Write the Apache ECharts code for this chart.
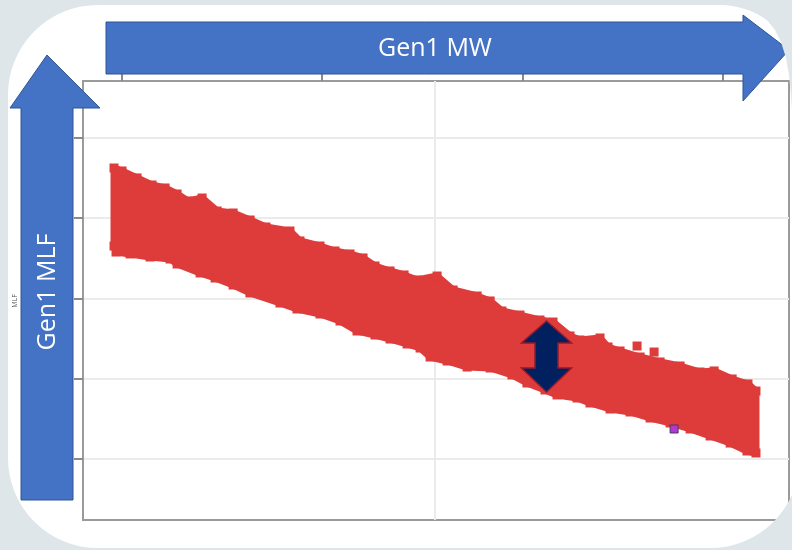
<!DOCTYPE html>
<html lang="en">

<head>
    <meta charset="UTF-8">
    <title>Gen1 MLF vs Gen1 MW</title>
    <script src="https://cdn.jsdelivr.net/npm/echarts@6/dist/echarts.min.js"></script>
    <style>
        html, body { margin: 0; padding: 0; background: #dfe6e9; }
        #chart { width: 792px; height: 550px; }
    </style>
</head>

<body>
    <div id="chart"></div>

    <script>
        // axis ranges (no labels are printed on the original)
        var mwRange = [80.5, 433.2];
        var mlfRange = [0.9424, 0.9971];
        var mwTicks = [100, 200, 300, 400];
        var mlfTicks = [0.95, 0.96, 0.97, 0.98, 0.99];
        var mwGridLine = 256.2;

        // upper edge of the red cloud, left to right  [MW, MLF]
        var bandTop = [
            [96.0, 0.98626], [100.0, 0.98589], [107.5, 0.98502], [115.0, 0.98414], [121.5, 0.98377],
            [127.5, 0.98302], [133.0, 0.98215], [140.0, 0.98252], [147.5, 0.98090], [155.5, 0.98065],
            [164.0, 0.97978], [171.9, 0.97891], [183.9, 0.97841], [188.9, 0.97717], [198.9, 0.97654],
            [206.4, 0.97592], [213.9, 0.97555], [220.4, 0.97505], [226.4, 0.97405], [233.9, 0.97343],
            [240.9, 0.97293], [247.4, 0.97231], [257.4, 0.97280], [265.4, 0.97106], [277.4, 0.97031],
            [283.9, 0.96969], [289.8, 0.96844], [298.8, 0.96794], [308.8, 0.96732], [315.3, 0.96707],
            [323.8, 0.96533], [328.8, 0.96483], [338.8, 0.96508], [342.8, 0.96396], [348.8, 0.96346],
            [358.8, 0.96271], [368.8, 0.96209], [378.8, 0.96159], [388.8, 0.96084], [395.8, 0.96097],
            [404.8, 0.95997], [412.7, 0.95935], [416.7, 0.95847]
        ];
        // lower edge of the cloud, right to left
        var bandBottom = [
            [416.7, 0.95075], [412.2, 0.95100], [403.8, 0.95199], [393.8, 0.95287], [383.8, 0.95374],
            [373.8, 0.95449], [363.8, 0.95511], [353.8, 0.95586], [343.8, 0.95623], [333.8, 0.95698],
            [327.3, 0.95760], [317.3, 0.95798], [311.3, 0.95860], [302.3, 0.95947], [294.8, 0.96047],
            [283.9, 0.96134], [272.4, 0.96146], [262.4, 0.96221], [253.9, 0.96271], [248.9, 0.96383],
            [242.4, 0.96433], [233.9, 0.96495], [226.4, 0.96545], [217.4, 0.96595], [208.9, 0.96720],
            [198.9, 0.96807], [187.4, 0.96869], [178.9, 0.96944], [163.9, 0.97069], [155.5, 0.97168],
            [146.5, 0.97255], [139.0, 0.97318], [127.5, 0.97430], [124.0, 0.97492], [114.0, 0.97517],
            [104.0, 0.97555], [97.0, 0.97579], [96.0, 0.97654]
        ];
        var strayPoints = [[357.3, 0.96408], [365.8, 0.96333]];
        var flaggedPoint = [[375.8, 0.95374]];

        var red = '#de3b3b';
        var blue = '#4472c4';
        var blueEdge = '#2f5597';
        var frameGrey = '#dfe6e9';

        var myChart = echarts.init(document.getElementById('chart'));

        var option = {
            backgroundColor: '#ffffff',
            animation: false,
            grid: {
                left: 83,
                top: 81,
                right: 3,
                bottom: 30,
                show: true,
                borderColor: '#9a9a9a',
                borderWidth: 2,
                outerBoundsMode: 'none'
            },
            xAxis: {
                type: 'value',
                position: 'top',
                min: mwRange[0],
                max: mwRange[1],
                axisLine: { show: true, lineStyle: { color: '#9a9a9a', width: 2 } },
                axisTick: { show: true, length: 7, customValues: mwTicks, lineStyle: { color: '#8a8a8a', width: 2 } },
                axisLabel: { show: false },
                splitLine: { show: false }
            },
            yAxis: {
                type: 'value',
                min: mlfRange[0],
                max: mlfRange[1],
                axisLine: { show: true, lineStyle: { color: '#9a9a9a', width: 2 } },
                axisTick: { show: true, length: 9, customValues: mlfTicks, lineStyle: { color: '#8a8a8a', width: 2 } },
                axisLabel: { show: false },
                splitLine: { show: true, lineStyle: { color: '#ebebeb', width: 2 } }
            },
            series: [
                {
                    // solid body of the cloud (stroke adds half a marker all round)
                    type: 'custom',
                    coordinateSystem: 'cartesian2d',
                    silent: true,
                    z: 2,
                    data: [bandTop[0]],
                    renderItem: function (params, api) {
                        var pts = bandTop.concat(bandBottom).map(function (d) {
                            return api.coord(d);
                        });
                        return {
                            type: 'polygon',
                            shape: { points: pts },
                            style: { fill: red, stroke: red, lineWidth: 7, lineJoin: 'bevel' }
                        };
                    }
                },
                {
                    // edge points of the cloud
                    type: 'scatter',
                    symbol: 'rect',
                    symbolSize: 9,
                    silent: true,
                    z: 3,
                    itemStyle: { color: red, opacity: 1 },
                    data: bandTop.concat(bandBottom, strayPoints),
                    markLine: {
                        silent: true,
                        z: 1,
                        symbol: 'none',
                        label: { show: false },
                        lineStyle: { color: '#ebebeb', width: 2, type: 'solid' },
                        data: [{ xAxis: mwGridLine }]
                    }
                },
                {
                    type: 'scatter',
                    symbol: 'rect',
                    symbolSize: 8,
                    silent: true,
                    z: 4,
                    itemStyle: { color: '#b03acc', borderColor: '#4d3866', borderWidth: 1, opacity: 1 },
                    data: flaggedPoint
                }
            ],
            graphic: [
                // Gen1 MW arrow
                {
                    type: 'polygon',
                    z: 100,
                    shape: { points: [[106, 22], [743, 22], [743, 15], [789, 50], [743, 101], [743, 74], [106, 74]] },
                    style: { fill: blue, stroke: blueEdge, lineWidth: 1 }
                },
                {
                    type: 'text',
                    z: 101,
                    x: 435,
                    y: 49,
                    style: {
                        text: 'Gen1 MW', fill: '#ffffff', fontSize: 25,
                        fontFamily: 'Open Sans', align: 'center', verticalAlign: 'middle'
                    }
                },
                // Gen1 MLF arrow
                {
                    type: 'polygon',
                    z: 100,
                    shape: { points: [[21, 500], [21, 108], [10, 108], [47, 55], [100, 108], [73, 108], [73, 500]] },
                    style: { fill: blue, stroke: blueEdge, lineWidth: 1 }
                },
                {
                    type: 'text',
                    z: 101,
                    x: 48,
                    y: 292,
                    rotation: Math.PI / 2,
                    style: {
                        text: 'Gen1 MLF', fill: '#ffffff', fontSize: 25,
                        fontFamily: 'Open Sans', align: 'center', verticalAlign: 'middle'
                    }
                },
                // faint original axis title
                {
                    type: 'text',
                    z: 101,
                    x: 15,
                    y: 301,
                    rotation: Math.PI / 2,
                    style: {
                        text: 'MLF', fill: '#555555', fontSize: 7,
                        fontFamily: 'Open Sans', align: 'center', verticalAlign: 'middle'
                    }
                },
                // spread marker
                {
                    type: 'polygon',
                    z: 100,
                    shape: {
                        points: [[546.5, 321], [571.5, 343], [558, 343], [558, 368], [571.5, 368],
                            [546.5, 392], [521.5, 368], [535, 368], [535, 343], [521.5, 343]]
                    },
                    style: { fill: '#002060', stroke: '#8e1b2f', lineWidth: 1.5 }
                },
                // rounded frame: thick stroke outside the white card
                {
                    type: 'rect',
                    z: 200,
                    silent: true,
                    shape: { x: -62, y: -65, width: 932, height: 683, r: [160, 150, 160, 160] },
                    style: { fill: 'none', stroke: frameGrey, lineWidth: 140 }
                },
                // top-right corner of the card is cut a bit tighter
                {
                    type: 'polygon',
                    z: 200,
                    silent: true,
                    shape: {
                        points: [[758, 0], [758, 12], [767, 20], [775, 30], [781, 42], [786, 58],
                            [789, 75], [791, 95], [792, 110], [793, 110], [793, 0]]
                    },
                    style: { fill: frameGrey }
                }
            ]
        };

        myChart.setOption(option);
    </script>
</body>

</html>
